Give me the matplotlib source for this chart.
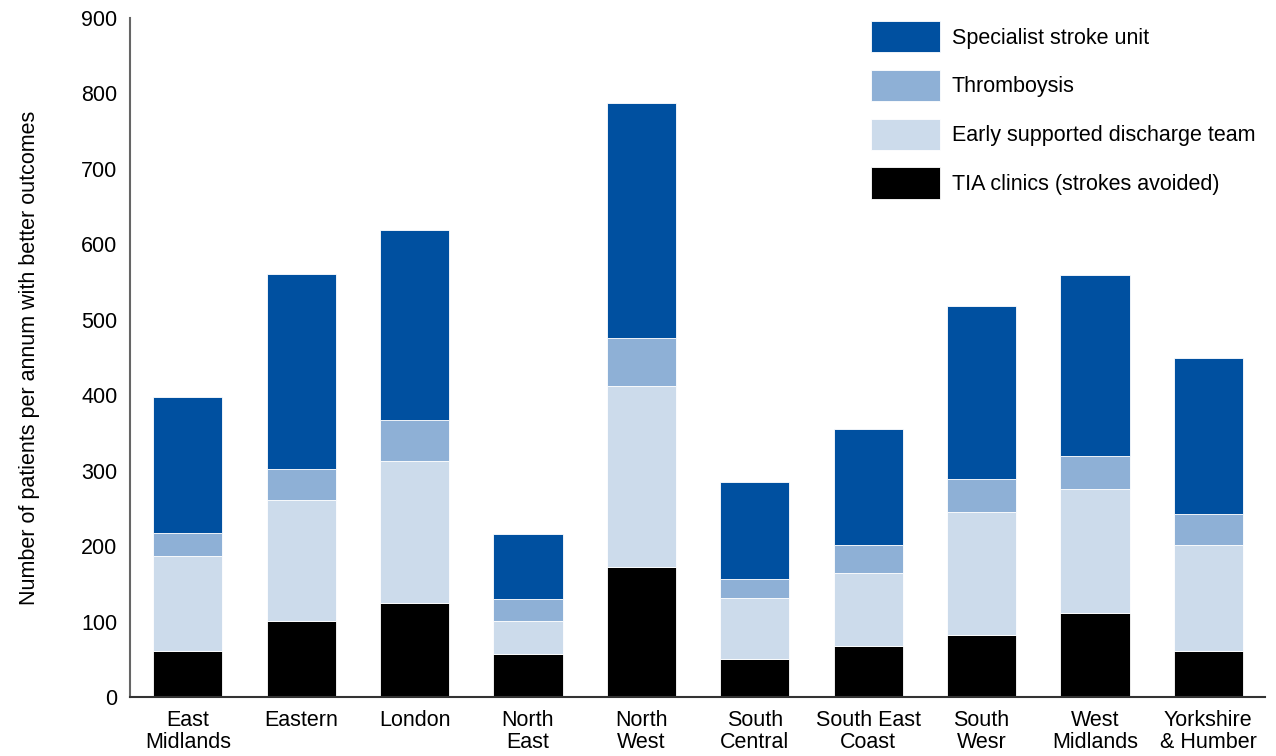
import matplotlib.pyplot as plt
import numpy as np

plt.rcParams['font.family'] = ['Liberation Sans', 'DejaVu Sans']

regions = ["East\nMidlands", "Eastern", "London", "North\nEast", "North\nWest",
           "South\nCentral", "South East\nCoast", "South\nWesr", "West\nMidlands",
           "Yorkshire\n& Humber"]

tia = [61, 101, 125, 57, 172, 50, 68, 82, 111, 61]
esd = [126, 160, 188, 44, 240, 81, 96, 163, 165, 140]
thromb = [30, 41, 54, 29, 64, 25, 37, 44, 43, 42]
ssu = [181, 259, 252, 86, 311, 129, 154, 229, 240, 206]

labels = ["Specialist stroke unit", "Thromboysis", "Early supported discharge team",
          "TIA clinics (strokes avoided)"]
colors = ["#0050A0", "#8EB0D6", "#CCDBEB", "#000000"]

fs = 15.5

fig = plt.figure(figsize=(12.76, 7.56), dpi=100)
ax = fig.add_axes([130 / 1276, 59 / 756, 1135 / 1276, 679 / 756])

x = np.arange(len(regions))
w = 0.61
b1 = np.array(tia)
b2 = b1 + np.array(esd)
b3 = b2 + np.array(thromb)

# stacked bars, thin white seams between segments
h_tia = ax.bar(x, tia, w, color=colors[3], edgecolor="white", linewidth=0.6)
h_esd = ax.bar(x, esd, w, bottom=b1, color=colors[2], edgecolor="white", linewidth=0.6)
h_thr = ax.bar(x, thromb, w, bottom=b2, color=colors[1], edgecolor="white", linewidth=0.6)
h_ssu = ax.bar(x, ssu, w, bottom=b3, color=colors[0], edgecolor="white", linewidth=0.6)

ax.set_xlim(-0.51, 9.5)
ax.set_ylim(0, 900)
ax.set_yticks(range(0, 901, 100))
ax.set_xticks(x)
ax.set_xticklabels(regions, fontsize=fs, linespacing=1.1)
ax.tick_params(axis="both", length=0, labelsize=fs)
ax.tick_params(axis="y", pad=9)
ax.tick_params(axis="x", pad=9)

for s in ["top", "right"]:
    ax.spines[s].set_visible(False)
ax.spines["left"].set_color("#666666")
ax.spines["bottom"].set_color("#333333")
ax.spines["left"].set_linewidth(1.5)
ax.spines["bottom"].set_linewidth(1.5)

ax.set_ylabel("Number of patients per annum with better outcomes", fontsize=fs,
              labelpad=30)

ax.legend([h_ssu, h_thr, h_esd, h_tia], labels, loc="upper left",
          bbox_to_anchor=(732 / 1135, 1.008), frameon=False, fontsize=fs,
          handlelength=3.2, handleheight=1.86, labelspacing=0.81,
          handletextpad=0.56, borderaxespad=0.0)

fig.savefig("out.png", dpi=100)
